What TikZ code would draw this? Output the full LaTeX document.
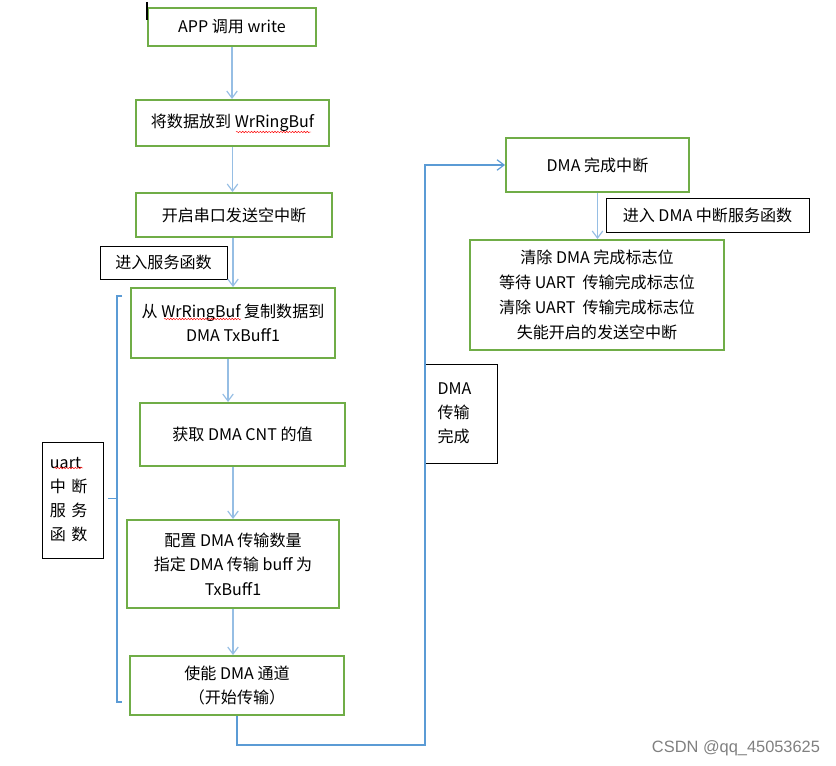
\documentclass[tikz,border=0pt]{standalone}
\usepackage{fontspec}
\setmainfont{Noto Sans CJK SC}
\newfontfamily\markfont{Liberation Sans}
\usetikzlibrary{arrows.meta,decorations.pathmorphing}
\definecolor{boxgreen}{RGB}{112,173,71}
\definecolor{linkblue}{RGB}{91,155,213}
\definecolor{arrowblue}{RGB}{150,190,228}
\begin{document}
\begin{tikzpicture}[x=0.03cm,y=-0.03cm,
  stepbox/.style={draw=boxgreen,line width=1.7pt,inner sep=0pt,align=center,font=\fontsize{13.7}{21}\selectfont},
  notebox/.style={draw=black,line width=0.8pt,inner sep=0pt,font=\fontsize{13.7}{20.5}\selectfont},
  flow/.style={draw=arrowblue,line width=1pt,-{Straight Barb[length=6pt,width=9pt]}},
  spell/.style={draw=red,line width=0.4pt,decorate,decoration={snake,amplitude=0.6pt,segment length=2.5pt}}]
\useasboundingbox (0,0) rectangle (836,766);
% left column
\node[stepbox,minimum width=5.04cm,minimum height=1.14cm] (app) at (232,27) {APP 调用 write};
\node[stepbox,minimum width=5.79cm,minimum height=1.38cm] (put) at (232.5,123) {将数据放到 WrRingBuf};
\node[stepbox,minimum width=5.88cm,minimum height=1.32cm] (txe) at (234,215) {开启串口发送空中断};
\node[notebox,minimum width=3.81cm,minimum height=0.99cm] (enter) at (163.5,262.5) {进入服务函数};
\node[stepbox,minimum width=6.12cm,minimum height=2.1cm] (copy) at (233,323) {从 WrRingBuf 复制数据到\\DMA TxBuff1};
\node[stepbox,minimum width=6.15cm,minimum height=1.89cm] (cnt) at (242.5,434.5) {获取 DMA CNT 的值};
\node[stepbox,minimum width=6.36cm,minimum height=2.64cm] (conf) at (233,564) {配置 DMA 传输数量\\指定 DMA 传输 buff 为\\TxBuff1};
\node[stepbox,minimum width=6.42cm,minimum height=1.77cm] (start) at (237,685.5) {使能 DMA 通道\\（开始传输）};
\node[notebox,text width=1.35cm,inner xsep=0.24cm,minimum height=3.48cm,align=left] (uart) at (72.5,500) {uart\\中\ 断\\服\ 务\\函\ 数};
% right column
\node[stepbox,minimum width=5.49cm,minimum height=1.62cm] (done) at (597.5,165) {DMA 完成中断};
\node[notebox,minimum width=6.09cm,minimum height=1.02cm] (dmaisr) at (707.5,215) {进入 DMA 中断服务函数};
\node[stepbox,minimum width=7.62cm,minimum height=3.3cm,font=\fontsize{13.7}{21.3}\selectfont] (clear) at (597,295) {清除 DMA 完成标志位\\等待 UART\ \ 传输完成标志位\\清除 UART\ \ 传输完成标志位\\失能开启的发送空中断};
\node[notebox,text width=1.44cm,inner xsep=0.36cm,minimum height=2.97cm,align=left] (fin) at (461.5,413.5) {DMA\\传输\\完成\\[-0.35cm]};
\coordinate (turn) at (425,745);
% arrows
\draw[flow] (app) -- (app |- put.north);
\draw[flow] (put) -- (put |- txe.north);
\draw[flow] (copy |- txe.south) -- (copy);
\draw[flow] ([xshift=-5*0.03cm]copy.south) -- ([xshift=-5*0.03cm]copy.south |- cnt.north);
\draw[flow] (conf |- cnt.south) -- (conf);
\draw[flow] (conf) -- (conf |- start.north);
\draw[flow] (done) -- (done |- clear.north);
\draw[flow,draw=linkblue] (start.south) |- (turn) |- (done.west);
% brace
\draw[linkblue,line width=1pt] (122,296) -- (117,296) -- (117,702) -- (122,702);
\draw[linkblue,line width=1pt] (108,498.5) -- (117,498.5);
% spelling marks and cursor
\draw[spell] (236,132) -- (311,132);
\draw[spell] (164,319) -- (241,319);
\draw[spell] (54,468) -- (83,468);
\draw[line width=1pt] (147,2) -- (147,20);
\node[gray,font=\markfont\fontsize{14}{14}\selectfont] (mark) at (736,748) {CSDN @qq\_45053625};
\end{tikzpicture}
\end{document}
